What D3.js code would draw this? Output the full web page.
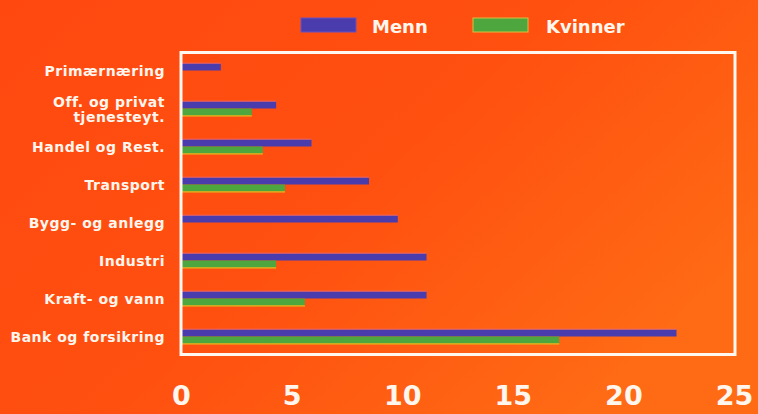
<!DOCTYPE html>
<html><head><meta charset="utf-8">
<script src="https://cdn.jsdelivr.net/npm/d3@7"></script>
<style>
html,body{margin:0;padding:0;background:#ff5512;}
svg{display:block;}
</style></head>
<body>
<svg id="c" width="758" height="414"></svg>
<script>
const categories = ["Primærnæring","Off. og privat\ntjenesteyt.","Handel og Rest.","Transport","Bygg- og anlegg","Industri","Kraft- og vann","Bank og forsikring"];
const menn =    [1.8, 4.3, 5.9, 8.5, 9.8, 11.1, 11.1, 22.4];
const kvinner = [null, 3.2, 3.7, 4.7, null, 4.3, 5.6, 17.1];
const seriesNames = ["Menn","Kvinner"];
const xTicks = [0,5,10,15,20,25];

const svg = d3.select("#c");
const defs = svg.append("defs");
const g = defs.append("linearGradient").attr("id","bg").attr("x1","0").attr("x2","1").attr("y1","0").attr("y2","0.6");
g.append("stop").attr("offset","0").attr("stop-color","#ff4810");
g.append("stop").attr("offset","0.55").attr("stop-color","#ff5010");
g.append("stop").attr("offset","1").attr("stop-color","#ff6a14");
svg.append("rect").attr("width",758).attr("height",414).attr("fill","url(#bg)");

const x = d3.scaleLinear().domain([0,25]).range([181,734]);
const y = d3.scaleBand().domain(categories).range([52,356]);
const bw = y.bandwidth();
const barH = 7;
const colors = {Menn:"#4b3cae", Kvinner:"#4ea63e"};

// bars
const rows = categories.map((c,i)=>({c, m:menn[i], k:kvinner[i]}));
const gb = svg.append("g");
rows.forEach(r=>{
  const cy = y(r.c) + bw/2;
  if (r.m != null) {
    gb.append("rect").attr("x",x(0)).attr("y",cy-7.5).attr("width",x(r.m)-x(0)).attr("height",barH)
      .attr("fill",colors.Menn);
    gb.append("rect").attr("x",x(0)).attr("y",cy-8.3).attr("width",x(r.m)-x(0)).attr("height",1)
      .attr("fill","#e8708a").attr("opacity",0.7);
  }
  if (r.k != null) {
    gb.append("rect").attr("x",x(0)).attr("y",cy-0.5).attr("width",x(r.k)-x(0)).attr("height",barH)
      .attr("fill",colors.Kvinner);
    gb.append("rect").attr("x",x(0)).attr("y",cy+6.3).attr("width",x(r.k)-x(0)).attr("height",1.2)
      .attr("fill","#e0c020");
  }
});

// frame
svg.append("rect").attr("x",181).attr("y",52.5).attr("width",554).attr("height",302)
  .attr("fill","none").attr("stroke","#fff8f0").attr("stroke-width",3);

// category labels
const fontFam = "'DejaVu Sans', Verdana, sans-serif";
const lab = svg.append("g").attr("font-family",fontFam).attr("font-weight","bold")
  .attr("font-size","14px").attr("letter-spacing","0.5px").attr("fill","#fff6ee").attr("text-anchor","end");
categories.forEach(c=>{
  const lines = c.split("\n");
  const cy = y(c) + bw/2;
  const t = lab.append("text").attr("x",165).attr("y",cy);
  lines.forEach((ln,j)=>{
    t.append("tspan").attr("x",165)
      .attr("y", cy + 5 + (lines.length>1 ? 0.5 : 0) + (j - (lines.length-1)/2)*15)
      .text(ln);
  });
});

// x axis
const ax = svg.append("g").attr("transform","translate(0,386)")
  .call(d3.axisBottom(x).tickValues(xTicks).tickSize(0).tickPadding(0).tickFormat(d3.format("d")));
ax.select(".domain").remove();
ax.selectAll("text").attr("font-family",fontFam).attr("font-weight","bold")
  .attr("font-size","27px").attr("fill","#fff6ee").attr("dy","0.71em");

// legend
const leg = svg.append("g");
const legX = [301, 473];
const legTX = [372, 546];
seriesNames.forEach((s,i)=>{
  leg.append("rect").attr("x",legX[i]).attr("y",18).attr("width",55).attr("height",14)
    .attr("fill",colors[s]).attr("stroke", i===0 ? "#6a50c0" : "#d8c040").attr("stroke-width",1);
  leg.append("text").attr("x",legTX[i]).attr("y",33).attr("font-family",fontFam)
    .attr("font-weight","bold").attr("font-size","18px").attr("fill","#fff6ee").text(s);
});
</script>
</body></html>
